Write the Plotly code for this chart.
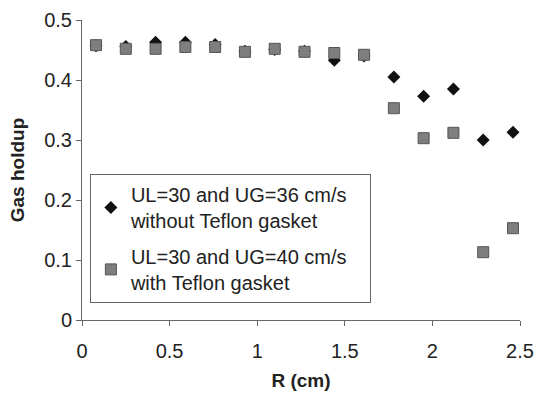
import plotly.graph_objects as go

r_cm = [0.08, 0.25, 0.42, 0.59, 0.76, 0.93, 1.10, 1.27, 1.44, 1.61, 1.78, 1.95, 2.12, 2.29, 2.46]
holdup_no_teflon = [0.457, 0.456, 0.463, 0.463, 0.459, 0.448, 0.451, 0.448, 0.433, 0.440, 0.405, 0.373, 0.385, 0.300, 0.313]
holdup_teflon = [0.458, 0.452, 0.452, 0.455, 0.455, 0.447, 0.452, 0.447, 0.445, 0.442, 0.353, 0.303, 0.312, 0.113, 0.153]

name1 = "UL=30 and UG=36 cm/s&nbsp;&nbsp;&nbsp;<br>without Teflon gasket"
name2 = "UL=30 and UG=40 cm/s&nbsp;&nbsp;&nbsp;<br>with Teflon gasket"

font = "Arial, Liberation Sans, sans-serif"

fig = go.Figure()
fig.add_trace(go.Scatter(
    x=r_cm, y=holdup_no_teflon, mode="markers", name=name1, legendgroup="a",
    marker=dict(symbol="diamond", size=10, color="#111111", line=dict(width=0)),
))
fig.add_trace(go.Scatter(
    x=r_cm, y=holdup_teflon, mode="markers", name=name2, legendgroup="b",
    marker=dict(symbol="square", size=11, color="#7e7e7e", line=dict(width=1, color="#555555")),
))

fig.update_layout(
    width=537, height=399,
    margin=dict(l=82, r=17, t=20, b=79, autoexpand=False),
    paper_bgcolor="white", plot_bgcolor="white",
    font=dict(family=font, size=20, color="#222222"),
    showlegend=True,
    legend=dict(
        x=0.018, y=0.487, xanchor="left", yanchor="top",
        bgcolor="white", bordercolor="#666666", borderwidth=1,
        font=dict(family=font, size=20, color="#222222"),
        traceorder="grouped", tracegroupgap=7,
        itemwidth=30,
    ),
    xaxis=dict(
        range=[0, 2.5], tickvals=[0, 0.5, 1, 1.5, 2, 2.5], ticktext=["0", "0.5", "1", "1.5", "2", "2.5"],
        showgrid=False, zeroline=False, showline=True, linecolor="#666666", linewidth=1,
        ticks="outside", ticklen=5, tickcolor="#666666", automargin=False,
        tickfont=dict(size=20), ticklabelstandoff=8,
        title=dict(text="<b>R (cm)</b>", font=dict(size=19), standoff=12),
    ),
    yaxis=dict(
        range=[0, 0.5], tickvals=[0, 0.1, 0.2, 0.3, 0.4, 0.5], ticktext=["0", "0.1", "0.2", "0.3", "0.4", "0.5"],
        showgrid=False, zeroline=False, showline=True, linecolor="#666666", linewidth=1,
        ticks="outside", ticklen=5, tickcolor="#666666", automargin=False,
        tickfont=dict(size=20),
        title=dict(text="<b>Gas holdup</b>", font=dict(size=19), standoff=14),
    ),
)

fig.write_html(
    "out.html",
    config={"displayModeBar": False},
    post_script="document.body.style.margin='0';document.body.style.overflow='hidden';",
)
